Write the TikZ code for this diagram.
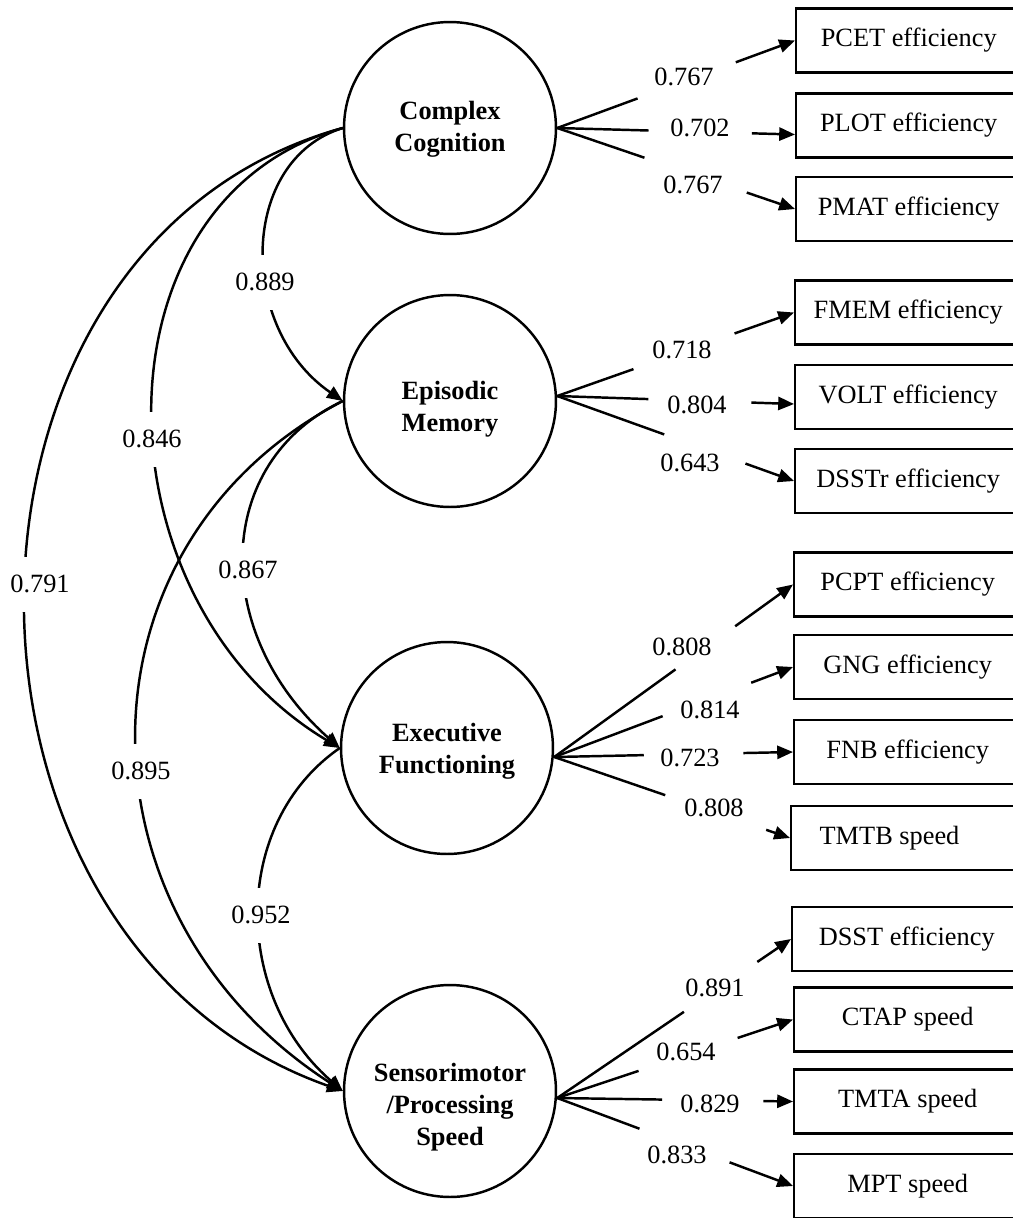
\documentclass[tikz,border=0pt]{standalone}
\usepackage{fontspec}
\setmainfont{Liberation Serif}
\usetikzlibrary{arrows.meta,calc}
\newcommand\myload[4]{%
  \draw[ln] (#1) -- ($(#1)!#3!(#2)$);
  \draw[arr] ($(#1)!#4!(#2)$) -- (#2);}
\begin{document}
\begin{tikzpicture}[x=0.02cm,y=-0.02cm,
  every node/.style={font=\fontsize{15}{18}\selectfont},
  lat/.style={draw, circle, line width=1.4pt, minimum size=4.24cm, inner sep=0pt},
  lattext/.style={align=center, inner sep=0pt, font=\fontsize{15}{18.3}\selectfont\bfseries},
  obs/.style={draw, rectangle, line width=1.4pt, minimum height=1.28cm, anchor=west, inner sep=0pt},
  num/.style={inner sep=1pt},
  cov/.style={fill=white, inner xsep=2pt, inner ysep=0pt, minimum height=1.1cm},
  ln/.style={line width=1.4pt},
  arr/.style={line width=1.4pt, -{Triangle[length=9pt,width=7.5pt]}},
]
\clip (0,0) rectangle (1013,1218);
\fill[white] (0,0) rectangle (1013,1218);

% latent variables
\node[lat] (cc) at (450,128) {};
\node[lat] (em) at (450,401) {};
\node[lat] (ef) at (447,748) {};
\node[lat] (sp) at (450,1091) {};
\node[lattext] (cct) at (450,129)  {Complex\\Cognition};
\node[lattext] (emt) at (450,409)  {Episodic\\Memory};
\node[lattext] (eft) at (447,751)  {Executive\\Functioning};
\node[lattext] (spt) at (450,1107) {Sensorimotor\\/Processing\\Speed};

% observed variables
\node[obs, minimum width=4.50cm] (pcet)  at (795,40.5)  {PCET efficiency};
\node[obs, minimum width=4.50cm] (plot)  at (795,125.5) {PLOT efficiency};
\node[obs, minimum width=4.50cm] (pmat)  at (795,209)   {PMAT efficiency};
\node[obs, minimum width=4.52cm] (fmem)  at (794,312.5) {FMEM efficiency};
\node[obs, minimum width=4.52cm] (volt)  at (794,397)   {VOLT efficiency};
\node[obs, minimum width=4.52cm] (dsstr) at (794,481)   {DSSTr efficiency};
\node[obs, minimum width=4.54cm] (pcpt)  at (793,584.5) {PCPT efficiency};
\node[obs, minimum width=4.54cm] (gng)   at (793,667)   {GNG efficiency};
\node[obs, minimum width=4.54cm] (fnb)   at (793,752)   {FNB efficiency};
\node[obs, minimum width=4.60cm] (tmtb)  at (790,838)   {\hspace*{-19pt}TMTB speed};
\node[obs, minimum width=4.58cm] (dsst)  at (791,939)   {DSST efficiency};
\node[obs, minimum width=4.54cm] (ctap)  at (793,1019.5){CTAP speed};
\node[obs, minimum width=4.54cm] (tmta)  at (793,1101.5){TMTA speed};
\node[obs, minimum width=4.54cm] (mpt)   at (793,1186)  {MPT speed};

% fan origins and shifted targets
\coordinate (cco) at (cc.east);
\coordinate (emo) at ($(em.east)+(0,-5)$);
\coordinate (efo) at ($(ef.east)+(0,9)$);
\coordinate (spo) at ($(sp.east)+(0,7)$);
\coordinate (plott) at ($(plot.west)+(0,9)$);
\coordinate (voltt) at ($(volt.west)+(0,7)$);

% loadings
\myload{cco}{pcet.west}{0.338}{0.751}
\myload{cco}{plott}{0.384}{0.819}
\myload{cco}{pmat.west}{0.367}{0.797}
\myload{emo}{fmem.west}{0.322}{0.749}
\myload{emo}{voltt}{0.385}{0.820}
\myload{emo}{dsstr.west}{0.452}{0.795}
\myload{efo}{pcpt.west}{0.508}{0.758}
\myload{efo}{gng.west}{0.454}{0.825}
\myload{efo}{fnb.west}{0.375}{0.792}
\myload{efo}{tmtb.west}{0.471}{0.899}
\myload{spo}{dsst.west}{0.542}{0.856}
\myload{spo}{ctap.west}{0.345}{0.765}
\myload{spo}{tmta.west}{0.445}{0.874}
\myload{spo}{mpt.west}{0.349}{0.731}

\node[num] (l1)  at (684,77)   {0.767};
\node[num] (l2)  at (700,128)  {0.702};
\node[num] (l3)  at (693,185)  {0.767};
\node[num] (l4)  at (682,350)  {0.718};
\node[num] (l5)  at (697,405)  {0.804};
\node[num] (l6)  at (690,463)  {0.643};
\node[num] (l7)  at (682,647)  {0.808};
\node[num] (l8)  at (710,710)  {0.814};
\node[num] (l9)  at (690,758)  {0.723};
\node[num] (l10) at (714,808)  {0.808};
\node[num] (l11) at (715,988)  {0.891};
\node[num] (l12) at (686,1052) {0.654};
\node[num] (l13) at (710,1104) {0.829};
\node[num] (l14) at (677,1155) {0.833};

% correlations
\draw[arr] (cc.west) .. controls (-80,244) and (-80,942) .. (sp.west);
\draw[arr] (cc.west) .. controls (88,197) and (92,600) .. (ef.west);
\draw[arr] (cc.west) .. controls (239,160) and (237,328) .. (em.west);
\draw[arr] (em.west) .. controls (213,462) and (210,633) .. (ef.west);
\draw[arr] (em.west) .. controls (68,544) and (68,914) .. (sp.west);
\draw[arr] (ef.west) .. controls (230,824) and (233,996) .. (sp.west);

\node[cov] (c1) at (40,584)  {0.791};
\node[cov] (c2) at (152,439) {0.846};
\node[cov] (c3) at (265,282) {0.889};
\node[cov] (c4) at (248,570) {0.867};
\node[cov] (c5) at (141,771) {0.895};
\node[cov] (c6) at (261,915) {0.952};
\end{tikzpicture}
\end{document}
